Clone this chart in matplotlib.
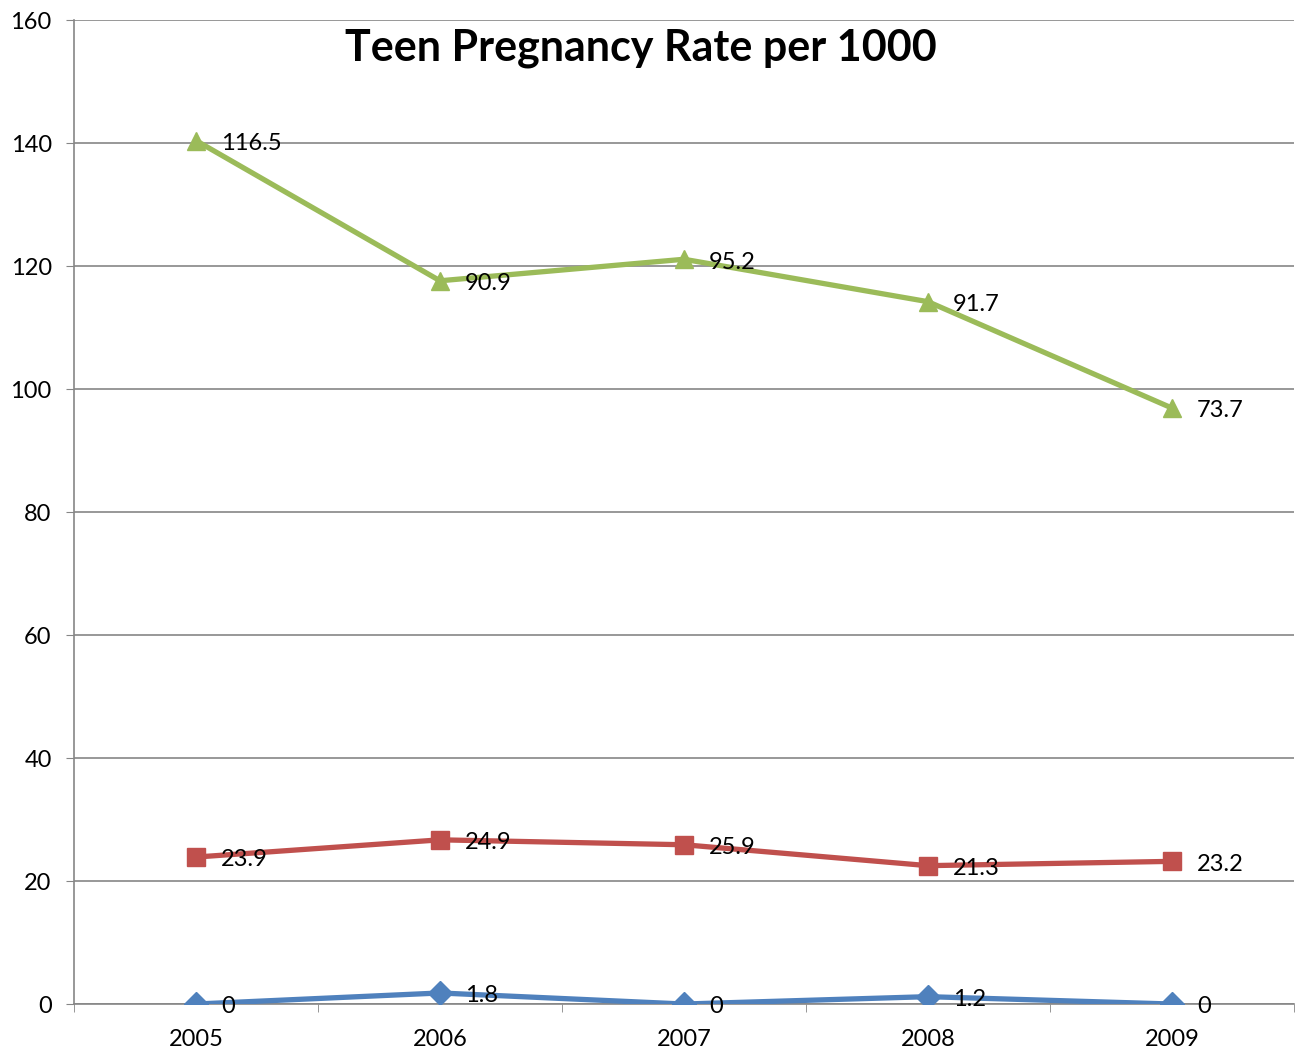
import matplotlib.pyplot as plt

years = ["2005", "2006", "2007", "2008", "2009"]
# stacked line chart: labels show each series' own value
series_blue = [0, 1.8, 0, 1.2, 0]
series_red = [23.9, 24.9, 25.9, 21.3, 23.2]
series_green = [116.5, 90.9, 95.2, 91.7, 73.7]

plt.rcParams['font.family'] = ['Lato', 'DejaVu Sans']

fig = plt.figure(figsize=(13, 10.59), dpi=100)
ax = fig.add_axes([0.0569, 0.0519, 0.9385, 0.9292])

x = list(range(len(years)))
base = [0] * len(years)
styles = [
    (series_blue, "#4F81BD", "D", 12),
    (series_red, "#C0504D", "s", 13),
    (series_green, "#9BBB59", "^", 13),
]
for vals, col, mk, ms in styles:
    top = [b + v for b, v in zip(base, vals)]
    ax.plot(x, top, color=col, lw=3.8, marker=mk, markersize=ms, zorder=3)
    for xi, yi, v in zip(x, top, vals):
        ax.annotate(f"{v:g}", (xi, yi), xytext=(18, -2), textcoords="offset points",
                    ha="left", va="center", fontsize=17, zorder=4)
    base = top

ax.set_xlim(-0.5, 4.5)
ax.set_ylim(0, 160)
ax.set_yticks(range(0, 161, 20))
ax.tick_params(axis='y', labelsize=17, length=6, color="#868686", pad=10)
ax.set_xticks(x)
ax.set_xticklabels(years)
ax.set_xticks([i - 0.5 for i in range(len(years) + 1)], minor=True)
ax.tick_params(axis='x', which='major', length=0, labelsize=17, pad=18)
ax.tick_params(axis='x', which='minor', length=6, color="#868686")
ax.grid(axis='y', color="#868686", lw=1.2)
ax.set_axisbelow(True)
for s in ["top", "right"]:
    ax.spines[s].set_visible(False)
for s in ["left", "bottom"]:
    ax.spines[s].set_color("#868686")
    ax.spines[s].set_linewidth(1.2)

ax.text(0.465, 0.992, "Teen Pregnancy Rate per 1000", transform=ax.transAxes,
        ha="center", va="top", fontsize=31, fontweight="bold")

fig.savefig("out.png", dpi=100)
